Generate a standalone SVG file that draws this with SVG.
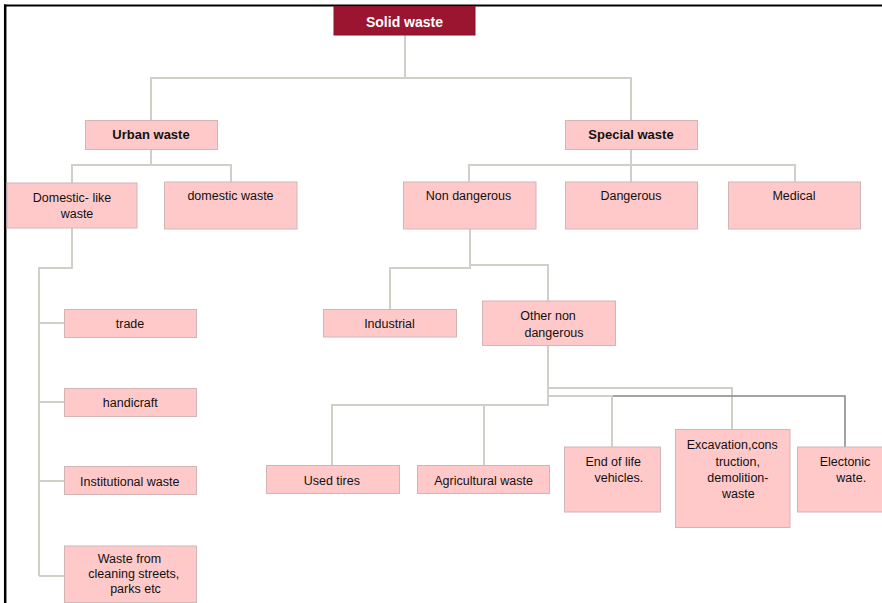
<svg xmlns="http://www.w3.org/2000/svg" width="882" height="603" viewBox="0 0 882 603">
<style>
  .box { fill: #FFC9C9; stroke: #D2B6B6; stroke-width: 1; }
  .root { fill: #9B1530; stroke: #8A1229; stroke-width: 1; }
  .t { font-family: "Liberation Sans", Arial, sans-serif; font-size: 12.5px; fill: #111; text-anchor: middle; }
  .b { font-weight: bold; font-size: 13px; }
  .w { fill: #ffffff; font-weight: bold; font-size: 14px; }
  .c { fill: none; stroke: #D0D0C8; stroke-width: 2; }
  .cd { fill: none; stroke: #858585; stroke-width: 1.5; }
</style>
<rect x="0" y="0" width="882" height="603" fill="#ffffff"/>
<g id="frame">
  <line x1="4" y1="5.5" x2="882" y2="5.5" stroke="#000" stroke-width="2"/>
  <line x1="5.2" y1="4.5" x2="5.2" y2="603" stroke="#000" stroke-width="2.5"/>
</g>
<g id="connectors">
  <path class="c" d="M405,35 V78"/>
  <path class="c" d="M151,120 V78 H631 V120"/>
  <path class="c" d="M151,149 V165"/>
  <path class="c" d="M72,183 V165 H231 V182"/>
  <path class="c" d="M72,228 V268 H39 V576"/>
  <path class="c" d="M39,323 H64 M39,402 H64 M39,481 H64 M39,576 H64"/>
  <path class="c" d="M631,149 V182"/>
  <path class="c" d="M469,182 V165 H795 V182"/>
  <path class="c" d="M470,229 V268 H390 V309"/>
  <path class="c" d="M470,265 H548 V301"/>
  <path class="c" d="M548,345 V405 H332 V465"/>
  <path class="c" d="M484,405 V465"/>
  <path class="c" d="M548,388 H732 V429"/>
  <path class="cd" d="M548,396 H845 V447"/>
  <path class="c" d="M548,396 H612 V447"/>
</g>
<g id="solid-waste">
  <rect class="root" x="334" y="6.5" width="141" height="28.5"/>
  <text class="t w" x="404.5" y="26.7">Solid waste</text>
</g>
<g id="urban-waste">
  <rect class="box" x="85.5" y="120.5" width="132" height="29"/>
  <text class="t b" x="151" y="138.7">Urban waste</text>
</g>
<g id="special-waste">
  <rect class="box" x="565.5" y="120.5" width="132" height="29"/>
  <text class="t b" x="631" y="138.7">Special waste</text>
</g>
<g id="domestic-like">
  <rect class="box" x="7" y="183" width="130" height="45"/>
  <text class="t" x="72" y="201.7">Domestic- like</text>
  <text class="t" x="77" y="218.3">waste</text>
</g>
<g id="domestic-waste">
  <rect class="box" x="164.5" y="182" width="132.5" height="47"/>
  <text class="t" x="230.5" y="200">domestic waste</text>
</g>
<g id="non-dangerous">
  <rect class="box" x="403.5" y="182" width="132.5" height="47"/>
  <text class="t" x="468.5" y="200">Non dangerous</text>
</g>
<g id="dangerous">
  <rect class="box" x="565.5" y="182" width="132" height="47"/>
  <text class="t" x="631" y="200">Dangerous</text>
</g>
<g id="medical">
  <rect class="box" x="728.5" y="182" width="132" height="47"/>
  <text class="t" x="794" y="200">Medical</text>
</g>
<g id="industrial">
  <rect class="box" x="323.5" y="309.5" width="133" height="27.5"/>
  <text class="t" x="389.5" y="328.3">Industrial</text>
</g>
<g id="other-non-dangerous">
  <rect class="box" x="482.5" y="301" width="133" height="44.5"/>
  <text class="t" x="548" y="320">Other non</text>
  <text class="t" x="554" y="336.7">dangerous</text>
</g>
<g id="trade">
  <rect class="box" x="64.5" y="309.5" width="132" height="28"/>
  <text class="t" x="130" y="328.3">trade</text>
</g>
<g id="handicraft">
  <rect class="box" x="64.5" y="388.5" width="132" height="28"/>
  <text class="t" x="130.3" y="407.3">handicraft</text>
</g>
<g id="institutional-waste">
  <rect class="box" x="64.5" y="466.5" width="132" height="28"/>
  <text class="t" x="129.8" y="485.7">Institutional waste</text>
</g>
<g id="waste-from-cleaning">
  <rect class="box" x="64.5" y="546" width="132" height="56.5"/>
  <text class="t" x="129.5" y="563.3">Waste from</text>
  <text class="t" x="133.8" y="578.3">cleaning streets,</text>
  <text class="t" x="135.5" y="593">parks etc</text>
</g>
<g id="used-tires">
  <rect class="box" x="266.5" y="465.5" width="133" height="28"/>
  <text class="t" x="331.8" y="485">Used tires</text>
</g>
<g id="agricultural-waste">
  <rect class="box" x="417.5" y="465.5" width="132" height="28"/>
  <text class="t" x="483.6" y="485">Agricultural waste</text>
</g>
<g id="end-of-life">
  <rect class="box" x="564.5" y="447" width="96" height="65"/>
  <text class="t" x="613.2" y="465.7">End of life</text>
  <text class="t" x="618.8" y="482.3">vehicles.</text>
</g>
<g id="excavation">
  <rect class="box" x="675.5" y="429.5" width="114.5" height="98"/>
  <text class="t" x="732.3" y="449">Excavation,cons</text>
  <text class="t" x="737.7" y="465.7">truction,</text>
  <text class="t" x="737.9" y="481.7">demolition-</text>
  <text class="t" x="738.3" y="498.3">waste</text>
</g>
<g id="electronic">
  <rect class="box" x="797.5" y="447" width="86" height="65"/>
  <text class="t" x="845" y="465.7">Electonic</text>
  <text class="t" x="851.2" y="482.3">wate.</text>
</g>
</svg>
